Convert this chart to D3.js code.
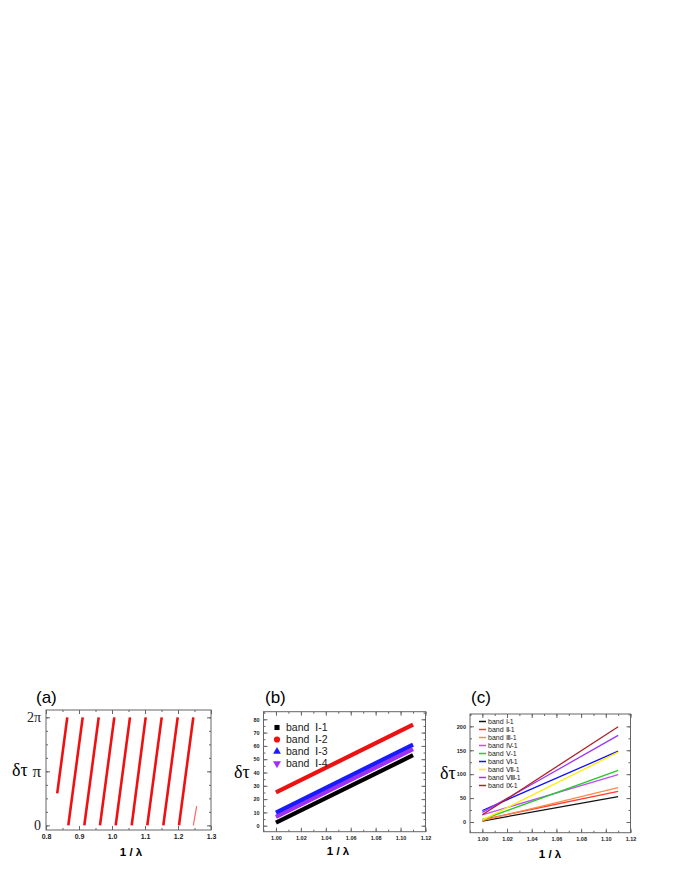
<!DOCTYPE html>
<meta charset="utf-8">
<style>
  body { margin: 0; background: #fff; }
  .tick text { fill: #222; }
</style>
<body>
<script src="https://d3js.org/d3.v7.min.js"></script>
<script>

    // ---- panel (a): phase, wrapped to [0, 2pi] ----
    var TWO_PI = 2 * Math.PI;
    var segStartX = [0.834, 0.8676, 0.9161, 0.9636, 1.0112, 1.0597, 1.1070, 1.1555, 1.2030, 1.2464];
    var segStartPhase = [1.86, 0, 0, 0, 0, 0, 0, 0, 0, 0];
    var segEndX = [0.8645, 0.9112, 0.9597, 1.0070, 1.0545, 1.1021, 1.1506, 1.1991, 1.2464, 1.2567];
    var segEndPhase = [TWO_PI, TWO_PI, TWO_PI, TWO_PI, TWO_PI, TWO_PI, TWO_PI, TWO_PI, TWO_PI, 1.12];
    var aXTicks = [0.8, 0.9, 1.0, 1.1, 1.2, 1.3];
    var aYTicks = [0, Math.PI, TWO_PI];
    var aYLabels = ["0", "\u03c0", "2\u03c0"];

    // ---- panel (b): band I scatter (dense markers) ----
    var bNames = ["band  \u2160-1", "band  \u2160-2", "band  \u2160-3", "band  \u2160-4"];
    var bColors = ["#000000", "#ee1111", "#1a1aff", "#a030f0"];
    var bSymbols = [d3.symbolSquare, d3.symbolCircle, d3.symbolTriangle, "down"];
    var bX = [1.00, 1.11];
    var bI1 = [2.3, 53];
    var bI2 = [25, 76];
    var bI3 = [9.8, 61];
    var bI4 = [6.6, 57.6];
    var bYTicks = [0, 10, 20, 30, 40, 50, 60, 70, 80];
    var bXTicks = [1.00, 1.02, 1.04, 1.06, 1.08, 1.10, 1.12];

    // ---- panel (c): bands I..IX, first mode ----
    var cNames = ["band \u2160-1", "band \u2161-1", "band \u2162-1", "band \u2163-1", "band \u2164-1",
                  "band \u2165-1", "band \u2166-1", "band \u2167-1", "band \u2168-1"];
    var cColors = ["#111111", "#ff3b3b", "#ff8a3d", "#c14bff", "#22cc22",
                   "#1010ff", "#ffee00", "#9a33ff", "#b0202a"];
    var cX = [1.00, 1.11];
    var cStart = [2, 5, 3, 15, 5, 24, 4, 20, 15];
    var cEnd = [53, 64, 72, 99, 108, 148, 146, 181, 199];
    var cYTicks = [0, 50, 100, 150, 200];
    var cXTicks = [1.00, 1.02, 1.04, 1.06, 1.08, 1.10, 1.12];

    var svg = d3.select("body").append("svg")
        .attr("width", 680)
        .attr("height", 880)
        .style("font-family", "'Liberation Sans', Arial, sans-serif");

    svg.append("rect").attr("width", 680).attr("height", 880).attr("fill", "#fff");

    function range(a, b, step) {
        var out = [];
        for (var v = a; v <= b + step / 1000; v += step) out.push(+v.toFixed(6));
        return out;
    }

    // frame with inward ticks on all four sides
    function frame(g, x, y, opt) {
        var w = x.range()[1] - x.range()[0];
        var h = y.range()[0] - y.range()[1];
        var x0 = x.range()[0], y0 = y.range()[1];

        function ax(axis, tx, ty, vals, size, fmt, fs) {
            var a = g.append("g")
                .attr("transform", "translate(" + tx + "," + ty + ")")
                .call(axis.tickValues(vals).tickSize(size).tickPadding(3).tickFormat(fmt || ""));
            a.select(".domain").remove();
            a.selectAll("line").attr("stroke", "#666");
            a.selectAll("text").style("font-size", fs + "px");
            return a;
        }
        ax(d3.axisBottom(x), 0, y0 + h, opt.xMinor, -2);
        ax(d3.axisTop(x), 0, y0, opt.xMinor, -2);
        ax(d3.axisLeft(y), x0, 0, opt.yMinor, -2);
        ax(d3.axisRight(y), x0 + w, 0, opt.yMinor, -2);
        var xb = ax(d3.axisBottom(x), 0, y0 + h, opt.xTicks, -4, opt.xFormat, opt.xFont);
        xb.selectAll("text").attr("y", 4).style("font-weight", "bold");
        ax(d3.axisTop(x), 0, y0, opt.xTicks, -4);
        var yl = ax(d3.axisLeft(y), x0, 0, opt.yTicks, -4, opt.yFormat, opt.yFont);
        if (opt.yTextStyle) opt.yTextStyle(yl.selectAll("text"));
        else yl.selectAll("text").attr("x", -4).style("font-weight", "bold");
        ax(d3.axisRight(y), x0 + w, 0, opt.yTicks, -4);

        g.append("rect")
            .attr("x", x0).attr("y", y0)
            .attr("width", w).attr("height", h)
            .attr("fill", "none").attr("stroke", "#666").attr("stroke-width", 1);
    }

    function labels(g, title, tx, ty, dtx, dty, lx, ly) {
        g.append("text").attr("x", tx).attr("y", ty)
            .style("font-size", "17px").text(title);
        g.append("text").attr("x", dtx).attr("y", dty)
            .style("font-family", "'Liberation Serif', 'Times New Roman', serif")
            .style("font-size", "18px").text("\u03b4\u03c4");
        g.append("text").attr("x", lx).attr("y", ly)
            .attr("text-anchor", "middle")
            .style("font-size", "11.5px").style("font-weight", "bold")
            .text("1 / \u03bb");
    }

    // ================= (a) =================
    var xa = d3.scaleLinear().domain([0.8, 1.3]).range([46, 211]);
    var ya = d3.scaleLinear().domain([-0.27, 6.71]).range([830, 710]);
    var ga = svg.append("g");

    var segs = segStartX.map(function (d, i) {
        return [[d, segStartPhase[i]], [segEndX[i], segEndPhase[i]]];
    });
    var lineA = d3.line().x(function (d) { return xa(d[0]); }).y(function (d) { return ya(d[1]); });
    ga.selectAll(".seg").data(segs).enter().append("path")
        .attr("class", "seg")
        .attr("d", lineA)
        .attr("fill", "none")
        .attr("stroke", function (d) { return d[1][1] < TWO_PI ? "#ff6666" : "#f01010"; })
        .attr("stroke-width", function (d) { return d[1][1] < TWO_PI ? 1.2 : 2.6; });

    frame(ga, xa, ya, {
        xTicks: aXTicks, xMinor: range(0.8, 1.3, 0.05), xFormat: d3.format(".1f"), xFont: 7,
        yTicks: aYTicks, yMinor: range(0, TWO_PI + 0.001, Math.PI / 4),
        yFormat: function (d, i) { return aYLabels[i]; }, yFont: 15,
        yTextStyle: function (t) {
            t.attr("x", -5).style("font-family", "'Liberation Serif', 'Times New Roman', serif")
                .style("font-size", function (d, i) { return i === 1 ? "17px" : "14px"; });
        }
    });
    labels(ga, "(a)", 36, 703, 12, 776, 131, 856);

    // ================= (b) =================
    var xb = d3.scaleLinear().domain([0.99, 1.12]).range([263.5, 425.5]);
    var yb = d3.scaleLinear().domain([-4.5, 85.7]).range([831.7, 711.7]);
    var gb = svg.append("g");
    var bSeries = [bI1, bI2, bI3, bI4];
    var lineB = d3.line().x(function (d) { return xb(d[0]); }).y(function (d) { return yb(d[1]); });
    // draw I-1 last-ish ordering as in the picture: black, purple, blue, red
    [0, 3, 2, 1].forEach(function (k) {
        gb.append("path")
            .datum(bX.map(function (v, i) { return [v, bSeries[k][i]]; }))
            .attr("d", lineB)
            .attr("fill", "none")
            .attr("stroke", bColors[k])
            .attr("stroke-width", 4.2);
    });

    frame(gb, xb, yb, {
        xTicks: bXTicks, xMinor: range(0.99, 1.12, 0.01), xFormat: d3.format(".2f"), xFont: 5.5,
        yTicks: bYTicks, yMinor: range(0, 85, 5), yFormat: d3.format("d"), yFont: 5.5
    });

    var legB = gb.selectAll(".legb").data(bNames).enter().append("g")
        .attr("transform", function (d, i) { return "translate(277," + (727.5 + i * 12) + ")"; });
    legB.append("path")
        .attr("d", function (d, i) {
            if (bSymbols[i] === "down") return d3.symbol().type(d3.symbolTriangle).size(28)();
            return d3.symbol().type(bSymbols[i]).size(i === 1 ? 30 : 26)();
        })
        .attr("transform", function (d, i) { return bSymbols[i] === "down" ? "rotate(180)" : null; })
        .attr("fill", function (d, i) { return bColors[i]; });
    legB.append("text").attr("x", 9).attr("y", 3.6)
        .style("font-size", "10.5px").style("white-space", "pre").attr("fill", "#222")
        .text(function (d) { return d; });

    labels(gb, "(b)", 265, 703, 234, 778, 338, 855);

    // ================= (c) =================
    var xc = d3.scaleLinear().domain([0.99, 1.12]).range([470, 630.5]);
    var yc = d3.scaleLinear().domain([-22.4, 225.8]).range([832.7, 714]);
    var gc = svg.append("g");
    var lineC = d3.line().x(function (d) { return xc(d[0]); }).y(function (d) { return yc(d[1]); });
    cNames.forEach(function (n, k) {
        gc.append("path")
            .datum([[cX[0], cStart[k]], [cX[1], cEnd[k]]])
            .attr("d", lineC)
            .attr("fill", "none")
            .attr("stroke", cColors[k])
            .attr("stroke-width", 1.3);
    });

    frame(gc, xc, yc, {
        xTicks: cXTicks, xMinor: range(0.99, 1.12, 0.01), xFormat: d3.format(".2f"), xFont: 5.5,
        yTicks: cYTicks, yMinor: range(0, 225, 25), yFormat: d3.format("d"), yFont: 5.5
    });

    var legC = gc.selectAll(".legc").data(cNames).enter().append("g")
        .attr("transform", function (d, i) { return "translate(479," + (721.5 + i * 8) + ")"; });
    legC.append("line").attr("x1", 0).attr("x2", 7)
        .attr("stroke", function (d, i) { return cColors[i]; })
        .attr("stroke-width", 1.5);
    legC.append("text").attr("x", 9).attr("y", 2.4)
        .style("font-size", "7px").attr("fill", "#222")
        .text(function (d) { return d; });

    labels(gc, "(c)", 471, 703, 440, 779, 550, 858);

</script>
</body>
